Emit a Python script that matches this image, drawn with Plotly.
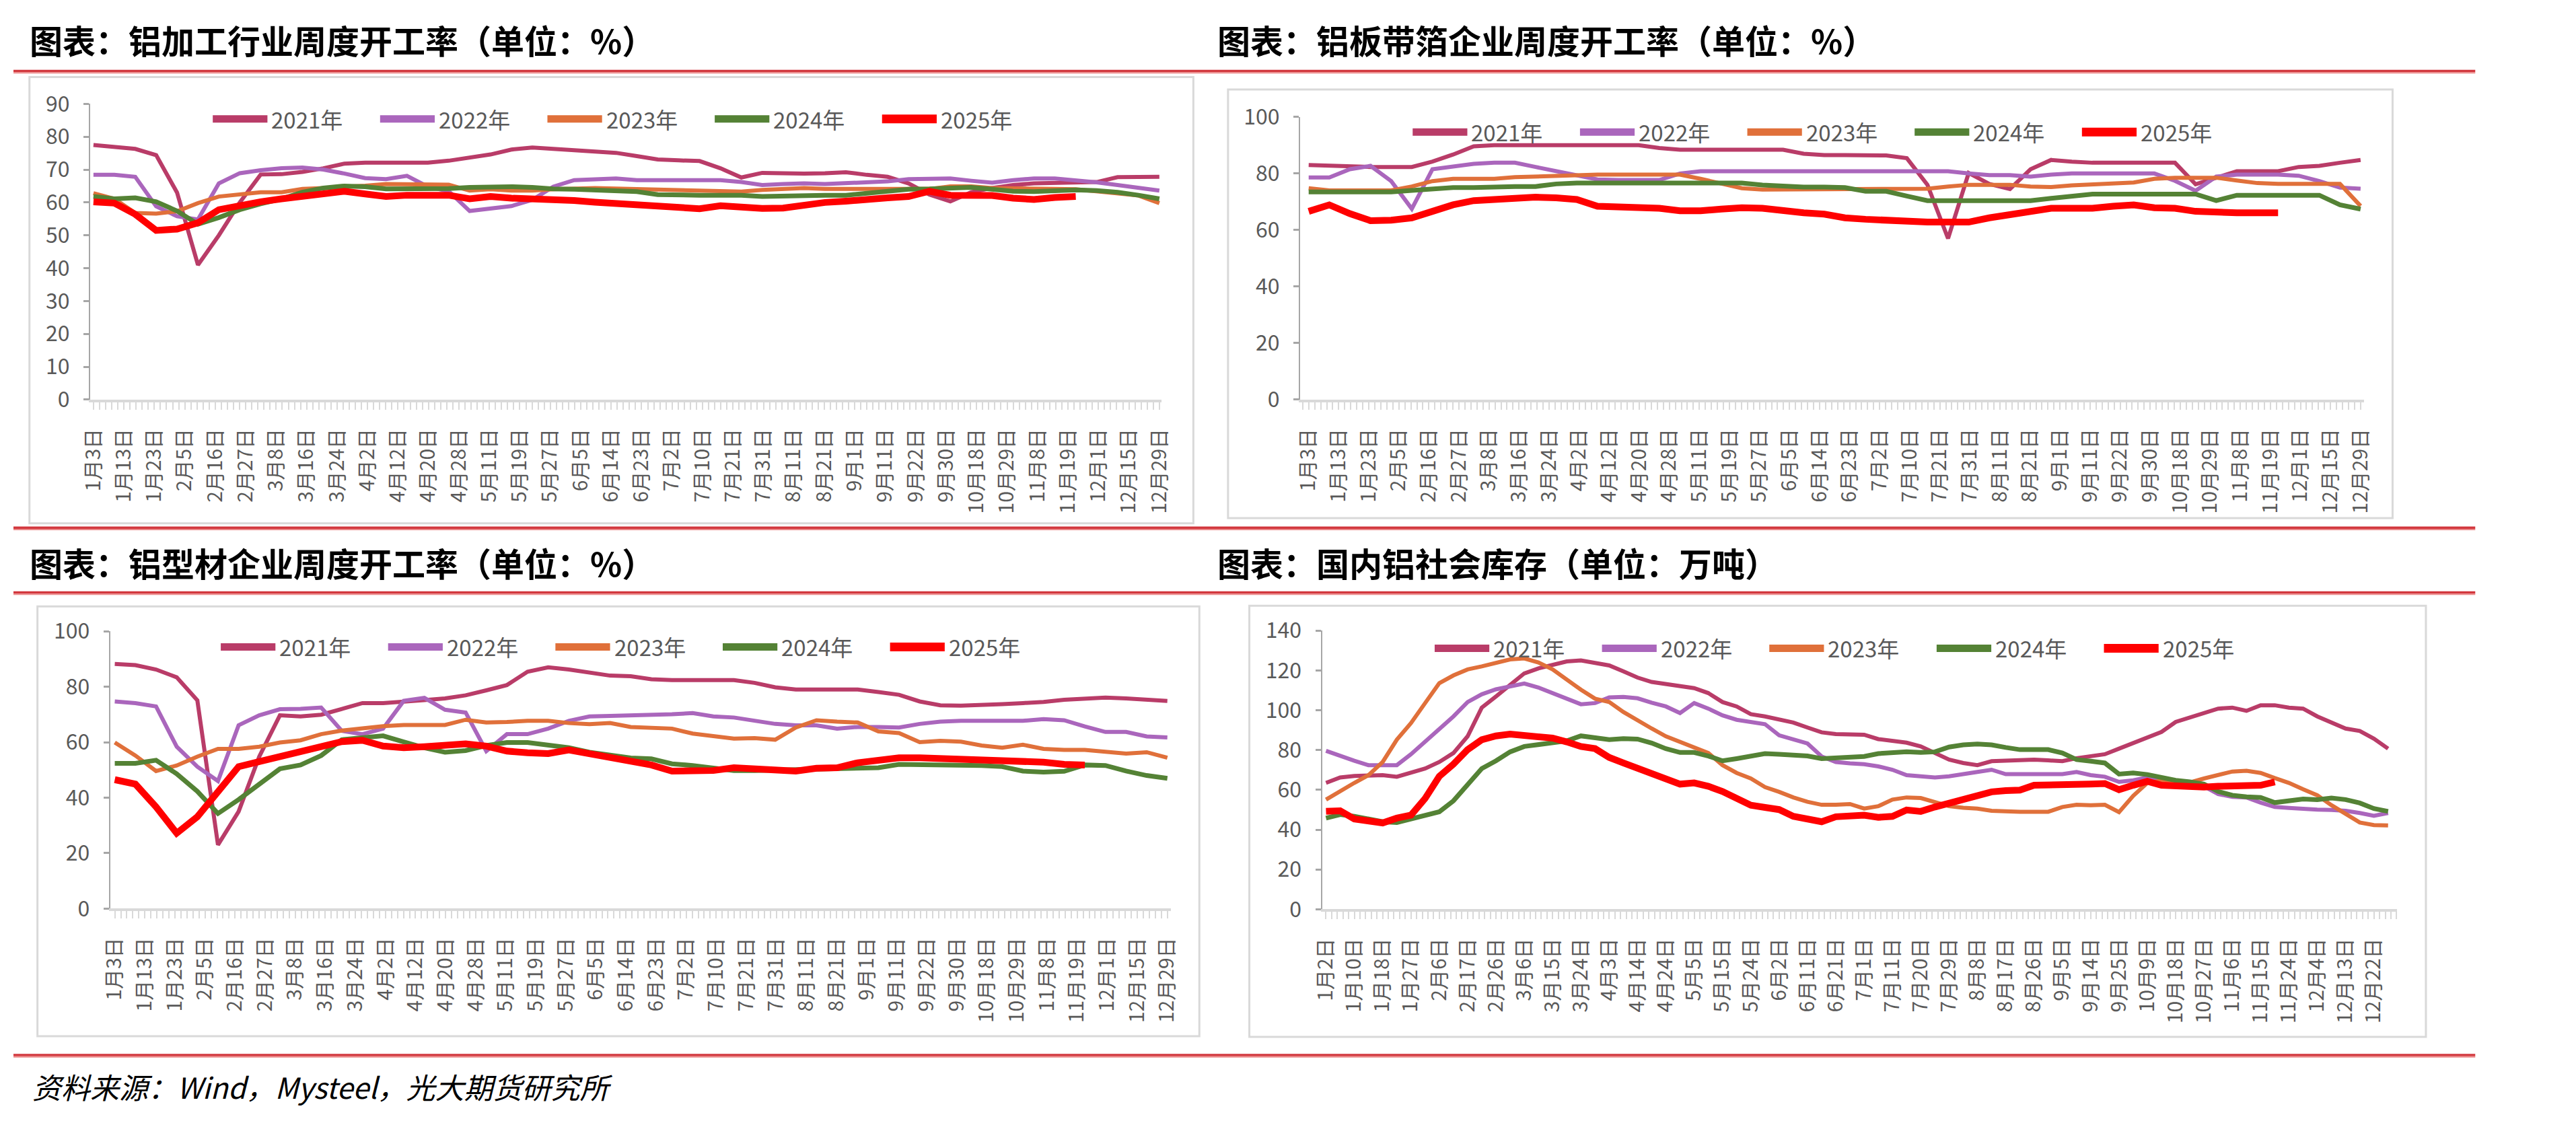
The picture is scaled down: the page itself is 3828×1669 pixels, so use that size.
import plotly.graph_objects as go

W, H = 3828, 1669

# ---------------- categories / tick labels ----------------
labels_a = ["1月3日", "1月13日", "1月23日", "2月5日", "2月16日", "2月27日", "3月8日", "3月16日", "3月24日",
            "4月2日", "4月12日", "4月20日", "4月28日", "5月11日", "5月19日", "5月27日", "6月5日", "6月14日",
            "6月23日", "7月2日", "7月10日", "7月21日", "7月31日", "8月11日", "8月21日", "9月1日", "9月11日",
            "9月22日", "9月30日", "10月18日", "10月29日", "11月8日", "11月19日", "12月1日", "12月15日", "12月29日"]
labels_b = ["1月2日", "1月10日", "1月18日", "1月27日", "2月6日", "2月17日", "2月26日", "3月6日", "3月15日",
            "3月24日", "4月3日", "4月14日", "4月24日", "5月5日", "5月15日", "5月24日", "6月2日", "6月11日",
            "6月21日", "7月1日", "7月11日", "7月20日", "7月29日", "8月8日", "8月17日", "8月26日", "9月5日",
            "9月14日", "9月25日", "10月9日", "10月18日", "10月27日", "11月6日", "11月15日", "11月24日",
            "12月4日", "12月13日", "12月22日"]

years = ["2021年", "2022年", "2023年", "2024年", "2025年"]

# ---------------- 铝加工行业周度开工率 (weekly) ----------------
p1_2021 = [77.5, 77.0, 76.3, 74.4, 63.0, 41.0, 50.0, 60.0, 68.5, 68.6, 69.3, 70.4, 71.8, 72.1, 72.1, 72.1, 72.1,
           72.7, 73.5, 74.6, 76.1, 76.7, 76.3, 75.9, 75.5, 75.1, 74.1, 73.1, 72.8, 72.6, 70.4, 67.6, 69.0, 68.8,
           68.8, 68.9, 69.2, 68.4, 67.8, 65.8, 62.4, 60.3, 63.1, 64.4, 65.3, 65.8, 65.9, 66.0, 66.2, 67.7, 67.8, 67.8]
p1_2022 = [68.4, 68.4, 67.8, 58.8, 55.8, 54.8, 65.8, 68.9, 69.8, 70.4, 70.6, 70.0, 68.8, 67.4, 67.1, 68.1, 64.8,
           63.4, 57.4, 58.2, 58.9, 60.8, 64.8, 66.8, 66.9, 67.3, 66.8, 66.8, 66.8, 66.8, 66.8, 66.2, 65.3, 65.6,
           65.8, 65.6, 65.8, 66.1, 66.4, 67.1, 67.3, 67.3, 66.6, 66.0, 66.8, 67.3, 67.3, 66.8, 66.1, 65.3, 64.4, 63.6]
p1_2023 = [62.8, 61.1, 56.8, 56.6, 57.3, 59.8, 61.8, 62.4, 63.1, 63.1, 64.1, 64.4, 64.6, 65.1, 65.6, 65.6, 65.6,
           65.4, 63.6, 64.0, 63.6, 63.6, 64.0, 64.2, 64.4, 64.2, 64.0, 63.8, 63.8, 63.4, 63.3, 63.3, 63.8, 64.1,
           64.4, 64.1, 64.1, 64.1, 64.0, 63.8, 64.1, 64.9, 64.9, 64.4, 64.4, 64.2, 64.1, 64.0, 63.4, 62.8, 62.1, 59.8]
p1_2024 = [61.8, 61.1, 61.4, 60.2, 57.4, 53.4, 55.4, 57.8, 59.6, 61.1, 63.1, 64.4, 65.0, 64.8, 64.1, 64.1, 64.1,
           64.2, 64.6, 64.8, 64.8, 64.6, 64.1, 64.0, 63.8, 63.6, 63.3, 62.4, 62.2, 62.2, 62.2, 62.2, 61.8, 62.0,
           62.2, 62.2, 62.2, 62.8, 63.6, 64.0, 64.1, 64.2, 64.6, 64.0, 63.4, 63.3, 63.6, 63.8, 63.6, 63.1, 62.2, 61.1]
p1_2025 = [60.2, 59.8, 56.4, 51.5, 51.9, 53.8, 57.8, 59.1, 60.2, 61.1, 61.9, 63.1, 63.4, 62.6, 61.8, 62.2, 62.4,
           62.2, 61.1, 61.8, 61.3, 61.1, 61.1, 60.6, 60.1, 59.6, 59.1, 58.6, 58.1, 58.1, 59.0, 58.4, 58.2, 58.3,
           59.4, 60.0, 60.4, 61.1, 61.4, 61.8, 63.4, 62.2, 62.2, 62.1, 61.3, 60.9, 61.5, 61.8]

# ---------------- 铝板带箔企业周度开工率 ----------------
p2_2021 = [83.0, 82.7, 82.3, 82.3, 82.3, 82.3, 84.2, 86.7, 89.6, 90.0, 90.0, 90.0, 90.0, 90.0, 90.0, 90.0, 90.0,
           89.0, 88.4, 88.4, 88.4, 88.4, 88.4, 88.4, 87.0, 86.5, 86.5, 86.5, 86.4, 85.4, 76.0, 57.0, 80.2, 76.3,
           74.5, 81.5, 84.8, 84.2, 83.8, 83.8, 83.8, 83.8, 83.8, 76.2, 78.5, 80.8, 80.8, 80.8, 82.3, 82.7, 83.8, 84.8]
p2_2022 = [78.6, 78.6, 81.5, 82.7, 77.3, 67.5, 81.5, 82.3, 83.4, 83.8, 83.8, 82.3, 80.8, 79.6, 77.9, 77.7, 77.7,
           77.7, 80.0, 80.8, 80.8, 80.8, 80.8, 80.8, 80.8, 80.8, 80.8, 80.8, 80.8, 80.8, 80.8, 80.8, 80.0, 79.4,
           79.4, 78.9, 79.6, 80.0, 80.0, 80.0, 80.0, 80.0, 77.4, 73.9, 78.9, 79.6, 79.6, 79.6, 79.2, 77.3, 75.0, 74.6]
p2_2023 = [74.8, 74.0, 74.0, 74.0, 74.0, 75.4, 77.3, 78.1, 78.1, 78.1, 78.7, 78.9, 79.2, 79.6, 79.6, 79.6, 79.6,
           79.6, 79.6, 78.1, 76.6, 74.8, 74.3, 74.3, 74.3, 74.3, 74.3, 74.6, 74.6, 74.6, 74.6, 75.4, 76.0, 76.0,
           76.0, 75.4, 75.2, 75.8, 76.2, 76.6, 76.8, 78.1, 78.5, 78.5, 78.5, 77.5, 76.6, 76.3, 76.3, 76.3, 76.3, 68.5]
p2_2024 = [73.5, 73.5, 73.5, 73.5, 73.5, 74.0, 74.6, 75.0, 75.0, 75.4, 75.4, 75.4, 76.3, 76.6, 76.6, 76.6, 76.6,
           76.6, 76.6, 76.6, 76.6, 76.6, 75.9, 75.4, 75.2, 75.2, 75.0, 73.7, 73.7, 72.0, 70.4, 70.4, 70.4, 70.4,
           70.4, 70.4, 71.2, 72.0, 72.7, 72.7, 72.7, 72.7, 72.7, 72.7, 70.4, 72.3, 72.3, 72.3, 72.3, 72.3, 68.9, 67.4]
p2_2025 = [66.6, 68.9, 65.8, 63.3, 63.5, 64.3, 66.6, 68.9, 70.4, 70.8, 71.2, 71.6, 71.4, 70.8, 68.4, 68.1, 68.1,
           67.7, 66.8, 66.8, 67.4, 67.9, 67.7, 66.6, 66.1, 65.6, 64.3, 63.8, 63.5, 62.8, 62.8, 62.8, 62.8, 64.3,
           65.3, 66.6, 67.7, 67.7, 67.7, 68.4, 68.9, 67.9, 67.7, 66.6, 66.1, 66.1, 66.1, 66.1]

# ---------------- 铝型材企业周度开工率 ----------------
p3_2021 = [88.2, 87.8, 86.2, 83.4, 75.1, 23.0, 35.0, 54.8, 69.7, 69.3, 69.9, 72.1, 74.1, 74.1, 74.8, 75.2, 75.8,
           76.9, 78.7, 80.6, 85.4, 87.0, 86.2, 85.0, 84.0, 83.8, 82.7, 82.4, 82.4, 82.4, 82.4, 81.4, 79.8, 79.0,
           79.0, 79.0, 79.0, 78.1, 77.1, 74.7, 73.3, 73.2, 73.3, 73.7, 74.1, 74.5, 75.3, 75.7, 76.1, 75.8, 75.5, 74.9]
p3_2022 = [74.7, 74.1, 72.9, 58.4, 51.2, 46.0, 66.1, 69.7, 71.9, 72.0, 72.5, 64.1, 62.9, 64.9, 74.9, 76.0, 71.7,
           70.7, 56.8, 62.9, 62.9, 64.9, 67.7, 69.3, 69.5, 69.7, 69.7, 70.1, 70.5, 69.3, 68.9, 67.9, 66.6, 66.1,
           66.1, 64.9, 65.5, 65.5, 65.3, 66.6, 67.4, 67.7, 67.7, 67.9, 67.7, 68.3, 67.9, 65.7, 63.7, 63.7, 62.1, 61.7]
p3_2023 = [59.9, 55.2, 49.6, 51.6, 54.8, 57.6, 57.6, 58.4, 59.9, 60.7, 62.9, 64.2, 65.0, 65.8, 66.2, 66.2, 66.2,
           68.1, 67.1, 67.3, 67.7, 67.7, 66.9, 66.5, 66.9, 65.5, 65.1, 64.9, 63.1, 62.1, 61.3, 61.5, 60.9, 65.3,
           67.9, 67.4, 67.1, 63.9, 63.3, 60.0, 60.5, 60.2, 58.8, 58.0, 59.1, 57.6, 57.2, 57.2, 56.4, 55.9, 56.4, 54.4]
p3_2024 = [52.4, 52.4, 53.5, 48.6, 42.3, 34.3, 39.3, 44.8, 50.4, 51.8, 55.2, 60.9, 61.7, 62.3, 60.1, 58.0, 56.4,
           57.0, 58.8, 59.9, 59.9, 59.1, 58.0, 56.4, 55.2, 54.3, 54.0, 52.2, 51.6, 50.6, 49.8, 49.8, 50.0, 50.0,
           50.2, 50.4, 50.4, 50.8, 52.0, 52.0, 52.0, 51.6, 51.6, 51.2, 49.6, 49.2, 49.5, 51.8, 51.6, 49.6, 48.0, 47.0]
p3_2025 = [46.5, 44.9, 36.7, 27.2, 33.1, 42.5, 51.2, 53.0, 54.6, 56.4, 58.4, 60.2, 60.7, 58.6, 58.0, 58.4, 59.0,
           59.4, 58.6, 56.8, 56.2, 55.9, 57.2, 56.0, 54.8, 53.6, 51.8, 49.6, 49.6, 49.8, 50.8, 50.4, 49.6, 49.6,
           50.6, 50.8, 52.6, 53.6, 54.4, 54.4, 54.2, 53.6, 53.6, 53.6, 53.5, 52.8, 52.0, 51.8]

# ---------------- 国内铝社会库存 (twice-weekly, half-label steps) ----------------
p4_2021 = [63.5, 66.2, 67.0, 67.4, 67.4, 66.6, 68.5, 70.7, 74.0, 78.5, 86.9, 101.3, 106.9, 113.0, 118.5, 121.0,
           123.0, 124.5, 125.0, 124.0, 122.5, 119.5, 116.4, 114.2, 113.0, 112.3, 111.1, 108.6, 104.1, 101.9, 98.0,
           96.9, 95.2, 93.8, 91.3, 88.9, 88.0, 87.7, 87.7, 85.5, 84.4, 83.7, 81.8, 78.5, 75.2, 73.5, 72.4, 74.4,
           74.8, 75.2, 75.2, 74.8, 74.4, 75.9, 76.8, 77.9, 80.7, 83.5, 86.3, 89.1, 94.1, 96.3, 98.6, 100.8, 101.3,
           99.7, 102.5, 102.5, 101.3, 100.8, 96.9, 94.1, 90.8, 89.6, 85.7, 80.7]
p4_2022 = [79.6, 77.0, 74.6, 72.4, 72.4, 72.4, 77.9, 84.1, 90.2, 96.9, 104.1, 108.0, 110.5, 111.9, 113.4, 111.4,
           108.6, 105.8, 103.0, 103.6, 106.4, 106.7, 106.0, 103.8, 101.9, 98.6, 103.6, 100.8, 97.4, 95.2, 94.1,
           93.0, 87.4, 85.2, 83.3, 76.8, 74.0, 73.3, 72.9, 71.8, 70.1, 67.4, 66.6, 66.2, 66.8, 67.7, 69.0, 70.1,
           67.9, 67.9, 67.9, 67.9, 67.9, 69.0, 67.4, 66.6, 64.0, 64.8, 66.2, 65.9, 64.8, 63.5, 61.8, 57.9, 56.5,
           56.2, 53.6, 51.4, 50.9, 50.3, 50.1, 49.9, 49.5, 48.4, 47.0, 48.4]
p4_2023 = [55.1, 59.6, 63.5, 67.4, 74.0, 85.2, 93.5, 103.6, 113.6, 117.5, 120.5, 122.0, 124.0, 125.5, 126.0,
           124.0, 120.5, 115.3, 110.3, 105.8, 104.1, 99.1, 94.7, 90.8, 86.9, 84.1, 81.8, 78.5, 72.4, 68.5, 65.7,
           61.4, 59.0, 56.2, 54.0, 52.5, 52.5, 52.9, 50.6, 51.8, 55.1, 56.2, 55.9, 54.0, 51.8, 51.0, 50.6, 49.5,
           49.0, 49.0, 49.0, 49.0, 51.4, 52.5, 52.3, 52.5, 48.8, 57.0, 63.5, 64.6, 64.3, 63.7, 65.7, 67.7, 69.2,
           69.6, 68.5, 65.9, 63.5, 60.3, 57.3, 52.3, 47.9, 43.6, 42.3, 42.1]
p4_2024 = [45.8, 47.6, 46.7, 45.6, 44.0, 43.6, 45.6, 47.0, 49.0, 54.5, 62.3, 70.7, 74.6, 79.1, 81.8, 82.6, 83.3,
           84.6, 87.1, 86.3, 85.2, 85.7, 85.5, 83.5, 80.7, 78.8, 78.8, 77.0, 74.6, 75.7, 77.0, 78.2, 77.9, 77.7,
           77.0, 75.7, 75.9, 76.3, 76.8, 78.2, 78.8, 79.1, 78.8, 79.1, 81.5, 82.6, 83.0, 82.6, 81.3, 80.2, 80.2,
           80.2, 78.5, 75.2, 74.4, 73.5, 67.9, 68.5, 67.7, 66.2, 64.8, 64.0, 62.9, 59.2, 57.3, 56.5, 56.2, 53.6,
           54.8, 55.4, 55.1, 55.9, 55.1, 53.4, 50.6, 49.2]
p4_2025 = [49.2, 49.5, 45.4, 44.5, 43.4, 45.8, 47.3, 55.7, 66.8, 72.9, 80.2, 85.2, 87.1, 88.0, 87.4, 86.3, 86.0,
           84.1, 81.8, 80.7, 76.3, 73.5, 70.7, 67.9, 65.7, 62.9, 63.5, 61.8, 59.2, 55.7, 52.3, 51.2, 50.1, 46.7,
           45.4, 44.0, 46.5, 46.7, 47.3, 46.2, 46.7, 49.9, 49.2, 51.4, 53.4, 55.7, 57.0, 59.0, 59.6, 59.9, 62.3,
           62.3, 62.6, 62.1, 62.9, 63.2, 60.1, 62.3, 64.3, 62.3, 61.8, 61.2, 61.4, 61.8, 61.8, 61.8, 62.3, 64.0]

# x positions (in tick-label index units)
x_week = [k * 35 / 51 for k in range(52)]
x_half = [j * 0.5 for j in range(76)]

# ---------------- styles ----------------
colors = ["#B93C68", "#AA66BC", "#E0703A", "#548235", "#FF0000"]
widths = [6, 6, 6, 7, 10]
FONT = "Noto Sans CJK SC"
GREY_TXT = "#595959"

panels = [
    dict(title="图表：铝加工行业周度开工率（单位：%）", tx=22, ty=33,
         box=(24, 91, 1770, 773), xdom=(115, 1722), lab=(120, 1719), ypx=(132, 584), ymax=90, dt=10,
         labels=labels_a, series=[p1_2021, p1_2022, p1_2023, p1_2024, p1_2025], xs=x_week, leg=(297, 155)),
    dict(title="图表：铝板带箔企业周度开工率（单位：%）", tx=1804, ty=33,
         box=(1822, 110, 3569, 765), xdom=(1930, 3526), lab=(1943, 3521), ypx=(152, 584), ymax=100, dt=20,
         labels=labels_a, series=[p2_2021, p2_2022, p2_2023, p2_2024, p2_2025], xs=x_week, leg=(2097, 175)),
    dict(title="图表：铝型材企业周度开工率（单位：%）", tx=22, ty=832,
         box=(36, 900, 1779, 1557), xdom=(145, 1736), lab=(152, 1731), ypx=(938, 1362), ymax=100, dt=20,
         labels=labels_a, series=[p3_2021, p3_2022, p3_2023, p3_2024, p3_2025], xs=x_week, leg=(309, 962)),
    dict(title="图表：国内铝社会库存（单位：万吨）", tx=1804, ty=832,
         box=(1854, 899, 3619, 1558), xdom=(1963, 3576), lab=(1969, 3541), ypx=(937, 1363), ymax=140, dt=20,
         labels=labels_b, series=[p4_2021, p4_2022, p4_2023, p4_2024, p4_2025], xs=x_half, leg=(2130, 964)),
]


def fx(px):
    return px / W


def fy(py):
    return 1 - py / H


fig = go.Figure()
shapes = []
annotations = []
layout_axes = {}

for n, p in enumerate(panels, start=1):
    xa = "x" if n == 1 else f"x{n}"
    ya = "y" if n == 1 else f"y{n}"
    for i, vals in enumerate(p["series"]):
        fig.add_trace(go.Scatter(
            x=p["xs"][:len(vals)], y=vals, mode="lines", name=years[i],
            line=dict(color=colors[i], width=widths[i]),
            xaxis=xa, yaxis=ya, showlegend=False, hoverinfo="skip"))

    nlab = len(p["labels"])
    l0, l1 = p["lab"]
    step = (l1 - l0) / (nlab - 1)
    xr = [(p["xdom"][0] - l0) / step, (nlab - 1) + (p["xdom"][1] - l1) / step]

    layout_axes["xaxis" if n == 1 else f"xaxis{n}"] = dict(
        domain=[fx(p["xdom"][0]), fx(p["xdom"][1])], anchor=ya, range=xr,
        tickmode="array", tickvals=list(range(nlab)), ticktext=p["labels"], tickangle=-90,
        tickfont=dict(family=FONT, size=30, color=GREY_TXT),
        showline=True, linecolor="#D9D9D9", linewidth=4,
        ticks="outside", ticklen=11, tickcolor="#D9D9D9", tickwidth=1.5,
        ticklabelstandoff=16,
        minor=dict(ticks="outside", ticklen=11, tickcolor="#D9D9D9", tickwidth=1.5,
                   tickmode="linear", tick0=0, dtick=0.2, showgrid=False),
        showgrid=False, zeroline=False, fixedrange=True)

    top, bot = p["ypx"]
    layout_axes["yaxis" if n == 1 else f"yaxis{n}"] = dict(
        domain=[fy(bot), fy(top)], anchor=xa, range=[0, p["ymax"]],
        tickmode="linear", tick0=0, dtick=p["dt"],
        tickfont=dict(family=FONT, size=32, color=GREY_TXT),
        showline=True, linecolor="#A6A6A6", linewidth=2,
        ticks="outside", ticklen=8, tickwidth=3, tickcolor="#A6A6A6",
        ticklabelstandoff=14,
        showgrid=False, zeroline=False, fixedrange=True)

    # panel frame
    bx0, by0, bx1, by1 = p["box"]
    shapes.append(dict(type="rect", xref="paper", yref="paper",
                       x0=fx(bx0), x1=fx(bx1), y0=fy(by1), y1=fy(by0),
                       line=dict(color="#D9D9D9", width=3), fillcolor="rgba(0,0,0,0)", layer="below"))

    # title
    annotations.append(dict(text=p["title"], xref="paper", yref="paper", x=fx(p["tx"]), y=fy(p["ty"]),
                            xanchor="left", yanchor="middle", showarrow=False,
                            font=dict(family=FONT, size=49, color="#000000", weight=700)))

    # legend (swatch + label)
    lx, ly = p["leg"]
    for i, yname in enumerate(years):
        sx = lx + i * 251
        shapes.append(dict(type="line", xref="paper", yref="paper",
                           x0=fx(sx + 2), x1=fx(sx + 84), y0=fy(ly), y1=fy(ly),
                           line=dict(color=colors[i], width=13 if i == 4 else 11)))
        annotations.append(dict(text=yname, xref="paper", yref="paper", x=fx(sx + 88), y=fy(ly),
                                xanchor="left", yanchor="middle", showarrow=False,
                                font=dict(family=FONT, size=33, color=GREY_TXT)))

# red separator rules
for y0 in [80, 778, 877, 1584]:
    shapes.append(dict(type="rect", xref="paper", yref="paper", x0=0, x1=fx(3693),
                       y0=fy(y0 + 3.5), y1=fy(y0), line=dict(width=0), fillcolor="#D2373D"))
    shapes.append(dict(type="rect", xref="paper", yref="paper", x0=0, x1=fx(3693),
                       y0=fy(y0 + 5.5), y1=fy(y0 + 3.5), line=dict(width=0), fillcolor="#EC8A8A"))

# source line
annotations.append(dict(text="资料来源：Wind，Mysteel，光大期货研究所", xref="paper", yref="paper",
                        x=fx(26), y=fy(1633), xanchor="left", yanchor="middle", showarrow=False,
                        font=dict(family=FONT, size=43, color="#000000", style="italic")))

fig.update_layout(
    width=W, height=H, autosize=False,
    margin=dict(l=0, r=0, t=0, b=0),
    paper_bgcolor="#FFFFFF", plot_bgcolor="rgba(0,0,0,0)",
    showlegend=False, shapes=shapes, annotations=annotations,
    **layout_axes)

fig.write_html("out.html", config={"displayModeBar": False})
